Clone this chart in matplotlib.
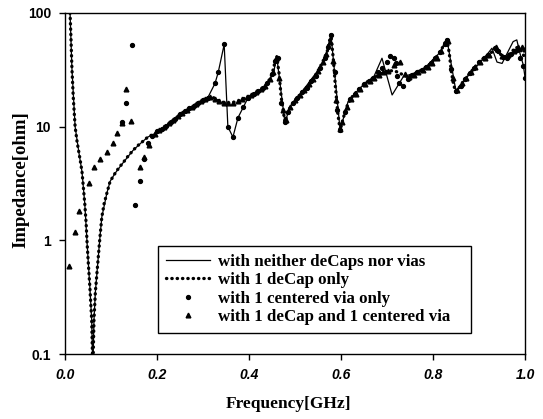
import matplotlib
matplotlib.use('Agg')
import matplotlib.pyplot as plt
from matplotlib.lines import Line2D

# with neither deCaps nor vias (solid)
f_none = [0.011, 0.015, 0.022, 0.030, 0.037, 0.043, 0.048, 0.054, 0.058, 0.0605, 0.063, 0.066,
          0.070, 0.076, 0.080, 0.091, 0.098, 0.109, 0.126, 0.148, 0.167, 0.180, 0.200, 0.228,
          0.254, 0.280, 0.311, 0.326, 0.333, 0.346, 0.354, 0.365, 0.376, 0.398, 0.430, 0.453,
          0.460, 0.478, 0.489, 0.504, 0.518, 0.554, 0.570, 0.578, 0.598, 0.615, 0.641, 0.670,
          0.689, 0.711, 0.735, 0.778, 0.815, 0.830, 0.850, 0.874, 0.900, 0.915, 0.928, 0.939,
          0.950, 0.962, 0.974, 0.982, 0.989, 0.996, 1.000]
z_none = [100, 33, 10, 6.0, 4.0, 2.1, 0.95, 0.39, 0.2, 0.07, 0.2, 0.35,
          0.55, 1.07, 1.6, 2.6, 3.3, 3.9, 4.8, 6.2, 7.3, 8.1, 8.9, 10.8,
          13.2, 15.3, 18.2, 24, 30, 53, 10, 8.1, 12, 18, 22, 29,
          42, 10.8, 15, 18, 21, 33, 46, 65, 9.3, 16.5, 21.9, 26.8,
          40, 19, 27.4, 31.5, 45, 59, 20.2, 27.4, 36, 42, 49, 37,
          36, 45, 56, 58, 44, 35, 27]

# with 1 deCap only (dotted)
f_decap = [0.011, 0.013, 0.015, 0.018, 0.022, 0.026, 0.030, 0.034, 0.037, 0.040, 0.043, 0.046,
           0.048, 0.051, 0.054, 0.056, 0.058, 0.0605, 0.063, 0.066, 0.070, 0.076, 0.080, 0.085,
           0.091, 0.098, 0.109, 0.118, 0.126, 0.137, 0.148, 0.158, 0.167, 0.180, 0.190, 0.200,
           0.210, 0.220, 0.230, 0.240, 0.250, 0.260, 0.270, 0.280, 0.290, 0.300, 0.310, 0.320,
           0.330, 0.340, 0.350, 0.360, 0.370, 0.380, 0.390, 0.400, 0.410, 0.420, 0.430, 0.440,
           0.450, 0.455, 0.460, 0.465, 0.470, 0.478, 0.485, 0.490, 0.500, 0.510, 0.520, 0.530,
           0.540, 0.550, 0.560, 0.570, 0.578, 0.583, 0.588, 0.593, 0.598, 0.605, 0.615, 0.625,
           0.635, 0.645, 0.655, 0.665, 0.675, 0.685, 0.695, 0.705, 0.715, 0.725, 0.735, 0.745,
           0.755, 0.765, 0.775, 0.785, 0.795, 0.805, 0.815, 0.823, 0.830, 0.835, 0.840, 0.845,
           0.850, 0.860, 0.870, 0.880, 0.890, 0.900, 0.910, 0.920, 0.930, 0.940, 0.950, 0.960,
           0.970, 0.980, 0.990, 1.000]
z_decap = [100, 60, 33, 18, 10, 7.5, 6.0, 4.8, 4.0, 2.9, 2.1, 1.4,
           0.95, 0.6, 0.39, 0.28, 0.2, 0.07, 0.2, 0.35, 0.55, 1.07, 1.6, 2.1,
           2.6, 3.3, 3.9, 4.4, 4.8, 5.5, 6.2, 6.8, 7.3, 8.1, 8.5, 8.9,
           9.6, 10.2, 11.0, 11.8, 12.8, 13.6, 14.5, 15.3, 16.2, 17.2, 18.0, 18.3,
           17.2, 16.5, 16.2, 16.2, 16.5, 17.0, 17.8, 18.5, 19.5, 20.8, 22, 24,
           29, 35, 42, 30, 18, 11, 13.5, 15, 17, 19, 21, 23.5,
           26.5, 31, 37, 46, 65, 40, 22, 13, 9.3, 12, 16, 18.5,
           20.5, 22.5, 24.5, 26, 27.5, 29, 30.5, 31, 31, 30, 28.5, 27.5,
           28.5, 30, 31.5, 33.5, 36, 40, 45, 52, 59, 45, 30, 23,
           20.2, 23, 26.5, 29.5, 33, 37, 40, 43, 46, 46, 42, 41,
           45, 50, 48, 40]

# with 1 centered via only (dots)
f_via = [0.124, 0.133, 0.146, 0.152, 0.163, 0.172, 0.180, 0.190, 0.200, 0.210, 0.220, 0.230,
         0.240, 0.250, 0.260, 0.270, 0.280, 0.290, 0.300, 0.310, 0.326, 0.333, 0.346, 0.354,
         0.365, 0.376, 0.387, 0.398, 0.410, 0.420, 0.430, 0.440, 0.450, 0.456, 0.462, 0.470,
         0.478, 0.485, 0.495, 0.505, 0.515, 0.525, 0.535, 0.545, 0.555, 0.565, 0.572, 0.578,
         0.586, 0.592, 0.598, 0.608, 0.620, 0.630, 0.640, 0.650, 0.660, 0.670, 0.680, 0.690,
         0.700, 0.707, 0.715, 0.720, 0.722, 0.727, 0.735, 0.745, 0.755, 0.765, 0.775, 0.785,
         0.795, 0.805, 0.815, 0.825, 0.831, 0.840, 0.850, 0.860, 0.870, 0.880, 0.890, 0.900,
         0.910, 0.920, 0.935, 0.941, 0.951, 0.960, 0.970, 0.983, 0.990, 0.996, 1.000]
z_via = [11, 16.2, 52, 2.05, 3.3, 5.2, 7.2, 8.3, 9.1, 9.6, 10.2, 11.0,
         11.8, 12.8, 13.6, 14.5, 15.3, 16.2, 17.2, 18.0, 24, 30, 53, 10,
         8.1, 12, 15, 18, 19.5, 20.8, 22, 24, 29, 38, 40, 16,
         11, 13.5, 16, 18, 20, 22, 25, 28, 33, 40, 50, 64,
         30, 14, 9.3, 13.5, 17.5, 19.5, 21.5, 23.5, 25, 27, 30, 33,
         37, 42, 40, 36, 28, 24, 23, 26, 28.5, 30, 31.5, 33.5,
         36, 40, 45, 53, 58, 32, 20.5, 23, 26.5, 29.5, 33, 37,
         40, 43, 49, 46, 41, 40, 44, 47, 40, 34, 27]

# with 1 deCap and 1 centered via (triangles)
f_both = [0.009, 0.022, 0.030, 0.052, 0.063, 0.076, 0.091, 0.104, 0.113, 0.124, 0.133, 0.143,
          0.163, 0.172, 0.183, 0.195, 0.205, 0.215, 0.225, 0.235, 0.245, 0.255, 0.265, 0.275,
          0.285, 0.295, 0.305, 0.315, 0.325, 0.335, 0.345, 0.355, 0.365, 0.375, 0.385, 0.395,
          0.405, 0.415, 0.425, 0.435, 0.445, 0.452, 0.458, 0.466, 0.474, 0.480, 0.490, 0.500,
          0.510, 0.520, 0.530, 0.540, 0.550, 0.560, 0.568, 0.576, 0.582, 0.590, 0.597, 0.603,
          0.612, 0.622, 0.632, 0.642, 0.652, 0.662, 0.672, 0.682, 0.692, 0.702, 0.715, 0.728,
          0.738, 0.748, 0.758, 0.768, 0.778, 0.788, 0.798, 0.808, 0.818, 0.826, 0.833, 0.843,
          0.852, 0.862, 0.872, 0.882, 0.892, 0.902, 0.912, 0.922, 0.937, 0.950, 0.963, 0.975,
          0.985, 0.993, 1.000]
z_both = [0.6, 1.19, 1.8, 3.2, 4.4, 5.2, 6.0, 7.2, 8.8, 10.8, 21.5, 11.2,
          4.4, 5.4, 6.9, 8.6, 9.4, 10.0, 10.7, 11.4, 12.3, 13.2, 14.0, 14.9,
          15.8, 16.7, 17.6, 18.2, 17.6, 16.8, 16.3, 16.2, 16.3, 16.7, 17.4, 18.2,
          19.0, 20.2, 21.4, 23, 26, 30, 39, 27, 14, 11.5, 15, 17,
          19, 21, 23.5, 26.5, 31, 37, 44, 56, 38, 17, 9.5, 11,
          15, 17.5, 19.5, 21.5, 23.5, 25, 26.8, 28.5, 30, 31, 35, 37,
          29, 27.5, 28.5, 30, 31.5, 33.5, 36, 40, 46, 54, 57, 27,
          21, 24, 27, 30, 33.5, 37, 40, 43, 50, 42, 43, 46,
          50, 50, 48]

fig = plt.figure(figsize=(5.43, 4.19), dpi=100)
ax = fig.add_axes([0.1197, 0.155, 0.8473, 0.814])

ax.plot(f_none, z_none, color='black', lw=0.9)
ax.plot(f_decap, z_decap, color='black', lw=2.4, linestyle=(0, (0.1, 1.5)),
        dash_capstyle='round')
ax.plot(f_via, z_via, linestyle='none', marker='o', ms=2.8, color='black')
ax.plot(f_both, z_both, linestyle='none', marker='^', ms=3.4, color='black')

ax.set_yscale('log')
ax.set_ylim(0.1, 100)
ax.set_xlim(0, 1.0)
ax.set_yticks([0.1, 1, 10, 100])
ax.set_yticklabels(['0.1', '1', '10', '100'])
ax.minorticks_off()
ax.set_xticks([0.0, 0.2, 0.4, 0.6, 0.8, 1.0])
ax.set_xticklabels(['0.0', '0.2', '0.4', '0.6', '0.8', '1.0'])
ax.tick_params(direction='out', length=4, width=1, pad=6)
for lab in ax.get_xticklabels():
    lab.set_fontfamily('Liberation Sans')
    lab.set_fontweight('bold')
    lab.set_fontstyle('italic')
    lab.set_fontsize(10)
for lab in ax.get_yticklabels():
    lab.set_fontfamily('Liberation Sans')
    lab.set_fontweight('bold')
    lab.set_fontsize(10)
for sp in ax.spines.values():
    sp.set_linewidth(1.0)

ax.set_xlabel('Frequency[GHz]', fontfamily='Liberation Serif', fontweight='bold',
              fontsize=12.5)
ax.set_ylabel('Impedance[ohm]', fontfamily='Liberation Serif', fontweight='bold',
              fontsize=13.5)
ax.xaxis.set_label_coords(0.485, -0.122)
ax.yaxis.set_label_coords(-0.078, 0.51)

handles = [
    Line2D([], [], color='black', lw=0.9),
    Line2D([], [], color='black', lw=2.4, linestyle=(0, (0.1, 1.5)), dash_capstyle='round'),
    Line2D([], [], linestyle='none', marker='o', ms=2.8, color='black'),
    Line2D([], [], linestyle='none', marker='^', ms=3.4, color='black'),
]
labels = ['with neither deCaps nor vias', 'with 1 deCap only',
          'with 1 centered via only', 'with 1 deCap and 1 centered via']
leg = ax.legend(handles, labels, loc='lower left', bbox_to_anchor=(0.202, 0.062, 0.680, 0.293),
                mode='expand', fancybox=False, edgecolor='black', framealpha=1,
                prop={'family': 'Liberation Serif', 'weight': 'bold', 'size': 12.2},
                handlelength=2.6, handletextpad=0.5, borderpad=0.45,
                borderaxespad=0, labelspacing=0.15)
leg.get_frame().set_linewidth(1.0)

fig.savefig('out.png', dpi=100)
plt.close(fig)
